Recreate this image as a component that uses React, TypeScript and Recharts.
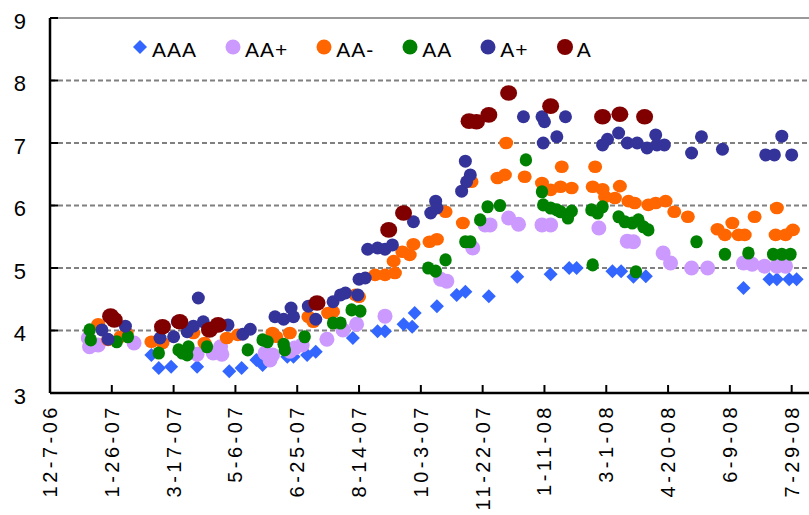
import React from "react";
import { ScatterChart, Scatter, XAxis, YAxis, CartesianGrid, Legend, ReferenceLine } from "recharts";

const FONT = '"Liberation Sans", Arial, sans-serif';

// x = days since 12-7-06, y = yield (%)
const xTicks = [0, 50, 100, 150, 200, 250, 300, 350, 400, 450, 500, 550, 600];
const xTickLabels = [
  "12-7-06", "1-26-07", "3-17-07", "5-6-07", "6-25-07", "8-14-07", "10-3-07",
  "11-22-07", "1-11-08", "3-1-08", "4-20-08", "6-9-08", "7-29-08",
];
const yTicks = [3, 4, 5, 6, 7, 8, 9];

type Pt = [number, number];

const aaa: Pt[] = [
  [82, 3.61], [88, 3.4], [98, 3.42], [119, 3.42], [145, 3.35], [155, 3.4], [167, 3.53], [172, 3.45],
  [192, 3.58], [197, 3.58], [208, 3.61], [215, 3.66], [245, 3.88], [265, 3.99], [271, 3.99], [286, 4.1],
  [293, 4.06], [295, 4.28], [313, 4.39], [329, 4.57], [336, 4.62], [355, 4.55], [378, 4.86], [405, 4.9],
  [420, 5.0], [426, 5.0], [455, 4.95], [462, 4.95], [472, 4.86], [482, 4.87], [561, 4.68], [582, 4.82],
  [588, 4.82], [598, 4.82], [604, 4.82],
];

const aaPlus: Pt[] = [
  [31, 3.88], [32, 3.74], [39, 3.77], [68, 3.8], [119, 3.62], [132, 3.64], [138, 3.74], [139, 3.62],
  [174, 3.64], [178, 3.53], [180, 3.61], [194, 3.67], [198, 3.72], [204, 3.77], [224, 3.86], [237, 4.01],
  [248, 4.1], [271, 4.23], [316, 4.82], [321, 4.79], [342, 5.32], [352, 5.69], [356, 5.69], [371, 5.8],
  [379, 5.7], [398, 5.69], [405, 5.69], [444, 5.64], [467, 5.43], [472, 5.42], [496, 5.24], [502, 5.08],
  [519, 5.0], [532, 5.0], [561, 5.08], [568, 5.06], [578, 5.03], [588, 5.03], [595, 5.03],
];

const aaMinus: Pt[] = [
  [39, 4.1], [47, 3.85], [57, 3.9], [62, 3.96], [82, 3.82], [91, 3.8], [116, 3.96], [125, 3.8],
  [143, 3.88], [152, 3.93], [180, 3.96], [183, 3.9], [194, 3.96], [209, 4.22], [213, 4.14], [225, 4.28],
  [229, 4.3], [247, 4.57], [250, 4.54], [263, 4.89], [271, 4.89], [279, 4.92], [278, 5.11], [285, 5.26],
  [291, 5.21], [294, 5.38], [307, 5.42], [313, 5.46], [320, 5.9], [334, 5.72], [341, 6.38], [362, 6.44],
  [368, 6.49], [369, 7.0], [384, 6.46], [398, 6.36], [405, 6.25], [413, 6.3], [414, 6.62], [422, 6.28],
  [439, 6.3], [441, 6.62], [447, 6.26], [449, 6.14], [457, 6.12], [461, 6.31], [468, 6.07], [473, 6.04],
  [484, 6.01], [490, 6.04], [498, 6.07], [505, 5.9], [516, 5.82], [540, 5.62], [546, 5.53], [552, 5.72],
  [557, 5.53], [562, 5.53], [570, 5.82], [587, 5.53], [588, 5.96], [595, 5.53], [601, 5.61],
];

const aa: Pt[] = [
  [32, 4.01], [33, 3.85], [54, 3.82], [63, 3.9], [88, 3.64], [104, 3.69], [107, 3.64], [111, 3.61],
  [112, 3.74], [127, 3.74], [160, 3.69], [172, 3.85], [176, 3.82], [189, 3.78], [190, 3.69], [206, 3.9],
  [229, 4.12], [235, 4.12], [244, 4.33], [251, 4.31], [306, 5.0], [312, 4.95], [320, 5.13], [336, 5.42],
  [340, 5.42], [348, 5.77], [354, 5.98], [364, 6.0], [385, 6.73], [398, 6.22], [399, 6.01], [405, 5.96],
  [410, 5.93], [413, 5.9], [419, 5.8], [422, 5.91], [438, 5.93], [443, 5.88], [447, 5.98], [439, 5.05],
  [460, 5.82], [465, 5.74], [471, 5.72], [476, 5.77], [480, 5.66], [484, 5.61], [474, 4.94], [523, 5.42],
  [546, 5.22], [565, 5.24], [585, 5.22], [592, 5.22], [599, 5.22],
];

const aPlus: Pt[] = [
  [42, 4.01], [47, 3.86], [61, 4.07], [89, 3.88], [100, 3.9], [103, 4.14], [111, 3.98], [116, 4.07],
  [120, 4.52], [124, 4.14], [144, 4.09], [156, 3.94], [162, 4.02], [182, 4.22], [189, 4.18], [195, 4.36],
  [197, 4.22], [209, 4.39], [215, 4.18], [229, 4.46], [235, 4.57], [239, 4.6], [249, 4.57], [250, 4.82],
  [255, 4.84], [257, 5.3], [265, 5.32], [271, 5.3], [277, 5.37], [294, 5.74], [308, 5.88], [312, 6.07],
  [313, 5.96], [333, 6.23], [337, 6.38], [340, 6.49], [336, 6.71], [383, 7.42], [398, 7.42], [400, 7.34],
  [399, 7.0], [410, 7.1], [417, 7.42], [447, 6.97], [451, 7.06], [460, 7.16], [467, 7.0], [475, 7.0],
  [483, 6.92], [490, 7.13], [491, 6.97], [497, 6.97], [519, 6.84], [527, 7.1], [544, 6.9], [579, 6.81],
  [586, 6.81], [592, 7.11], [600, 6.81],
];

const aGrade: Pt[] = [
  [49, 4.23], [52, 4.17], [91, 4.06], [105, 4.14], [129, 4.01], [136, 4.09], [216, 4.44], [274, 5.61],
  [286, 5.88], [339, 7.35], [345, 7.34], [355, 7.45], [371, 7.8], [405, 7.59], [447, 7.42], [461, 7.46],
  [481, 7.42],
];

const series = [
  { name: "AAA", data: aaa, color: "#3366FF", kind: "diamond", rx: 7, ry: 7 },
  { name: "AA+", data: aaPlus, color: "#CC99FF", kind: "dot", rx: 7.5, ry: 7.5 },
  { name: "AA-", data: aaMinus, color: "#FF6600", kind: "dot", rx: 7, ry: 6.3 },
  { name: "AA", data: aa, color: "#008000", kind: "dot", rx: 6.2, ry: 6.6 },
  { name: "A+", data: aPlus, color: "#333399", kind: "dot", rx: 6.5, ry: 6.5 },
  { name: "A", data: aGrade, color: "#800000", kind: "dot", rx: 8.5, ry: 7.8 },
];

const toRows = (pts: Pt[]) => pts.map(([day, value]) => ({ day, value }));

const makeShape = (kind: string, rx: number, ry: number, color: string) => (props: any) => {
  const { cx, cy } = props;
  if (cx == null || cy == null) return <g />;
  if (kind === "diamond") {
    return (
      <path
        d={`M${cx},${cy - ry}L${cx + rx},${cy}L${cx},${cy + ry}L${cx - rx},${cy}Z`}
        fill={color}
      />
    );
  }
  return <ellipse cx={cx} cy={cy} rx={rx} ry={ry} fill={color} />;
};

const YTick = (props: any) => {
  const { x, y, payload } = props;
  return (
    <g>
      <line x1={x} x2={x + 8} y1={y} y2={y} stroke="#000" strokeWidth={2} />
      <text
        x={x - 24}
        y={y + 3}
        textAnchor="end"
        dominantBaseline="central"
        fontSize={22}
        fontFamily={FONT}
        fill="#000"
      >
        {payload.value}
      </text>
    </g>
  );
};

const XTick = (props: any) => {
  const { x, y, payload } = props;
  const label = xTickLabels[xTicks.indexOf(payload.value)];
  return (
    <g>
      <line x1={x} x2={x} y1={y} y2={y - 8} stroke="#000" strokeWidth={2} />
      <text
        transform={`translate(${x},${y + 11}) rotate(-90)`}
        textAnchor="end"
        dominantBaseline="central"
        fontSize={20}
        letterSpacing={3.5}
        fontFamily={FONT}
        fill="#000"
      >
        {label}
      </text>
    </g>
  );
};

const renderLegend = () => (
  <div style={{ display: "flex", alignItems: "center", fontFamily: FONT, fontSize: 21, color: "#000" }}>
    {series.map((s) => (
      <div key={s.name} style={{ display: "flex", alignItems: "center", marginRight: 28 }}>
        <svg width={16} height={16} style={{ marginTop: -6 }}>
          {s.kind === "diamond" ? (
            <path d="M8,1L15,8L8,15L1,8Z" fill={s.color} />
          ) : (
            <circle cx={8} cy={8} r={s.name === "A" ? 8 : 7.5} fill={s.color} />
          )}
        </svg>
        <span style={{ marginLeft: 4, letterSpacing: 1 }}>{s.name}</span>
      </div>
    ))}
  </div>
);

export default function App() {
  return (
    <div style={{ position: "absolute", left: 0, top: 0, background: "#fff" }}>
      <ScatterChart width={809} height={515} margin={{ top: 18, right: 0, bottom: 121, left: 49 }}>
        <CartesianGrid
          vertical={false}
          horizontalValues={[4, 5, 6, 7, 8]}
          stroke="#808080"
          strokeWidth={2}
          strokeDasharray="5 3"
        />
        <ReferenceLine y={9} stroke="#999" strokeWidth={2} />
        <XAxis
          dataKey="day"
          type="number"
          domain={[0, 614]}
          ticks={xTicks}
          interval={0}
          height={1}
          tickSize={0}
          tickMargin={0}
          tickLine={false}
          axisLine={{ stroke: "#000", strokeWidth: 2.5 }}
          tick={<XTick />}
        />
        <YAxis
          dataKey="value"
          type="number"
          domain={[3, 9]}
          ticks={yTicks}
          interval={0}
          width={1}
          tickSize={0}
          tickMargin={0}
          tickLine={false}
          axisLine={{ stroke: "#000", strokeWidth: 2.5 }}
          tick={<YTick />}
        />
        <Legend
          layout="horizontal"
          verticalAlign="middle"
          align="center"
          content={renderLegend}
          wrapperStyle={{ position: "absolute", top: 38, left: 132, width: "auto", height: "auto" }}
        />
        {series.map((s) => (
          <Scatter
            key={s.name}
            name={s.name}
            data={toRows(s.data)}
            fill={s.color}
            shape={makeShape(s.kind, s.rx, s.ry, s.color)}
            isAnimationActive={false}
          />
        ))}
      </ScatterChart>
    </div>
  );
}
